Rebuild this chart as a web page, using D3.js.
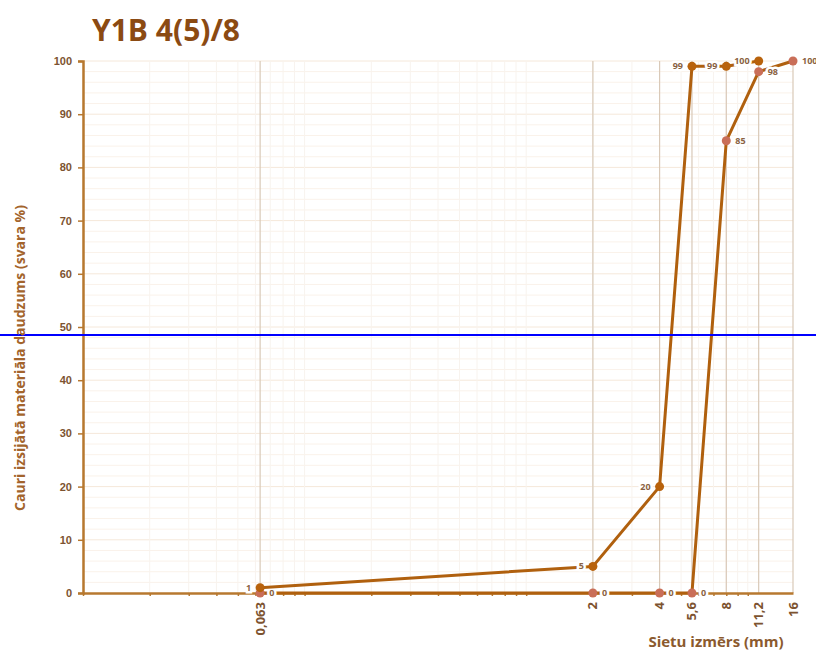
<!DOCTYPE html>
<head><style>body { margin: 0; } svg { background-color: #fff; font-family: "Open Sans", sans-serif; }</style></head>
<body>
    <div class="container"></div>
    <script src="https://d3js.org/d3.v7.min.js"></script>
    <script>
        // sieve sizes (mm) and their labels
        var sieves = [0.063, 2, 4, 5.6, 8, 11.2, 16];
        var sieveLabels = ['0,063', '2', '4', '5,6', '8', '11,2', '16'];
        // upper and lower grading limits (% passing)
        var upper = [1, 5, 20, 99, 99, 100];
        var lower = [0, 0, 0, 0, 85, 98, 100];
        var yTicks = [0, 10, 20, 30, 40, 50, 60, 70, 80, 90, 100];
        var refLine = 48.5;

        var W = 816, H = 653;
        var svg = d3.select('.container')
                    .append('svg')
                    .attr('width', W)
                    .attr('height', H);

        var x = d3.scaleLog().domain([0.01, 16]).range([83, 793]);
        var y = d3.scaleLinear().domain([0, 100]).range([593, 61]);

        // faint grid
        var grid = svg.append('g');
        grid.selectAll('.hmin')
            .data(d3.range(2, 101, 2))
            .enter().append('line')
            .attr('x1', x.range()[0]).attr('x2', x.range()[1])
            .attr('y1', function(d) { return y(d); })
            .attr('y2', function(d) { return y(d); })
            .attr('stroke', function(d) { return d % 10 === 0 ? '#f5e8da' : '#faf2ea'; })
            .attr('stroke-width', 1);
        grid.selectAll('.vmin')
            .data(x.ticks())
            .enter().append('line')
            .attr('x1', function(d) { return x(d); })
            .attr('x2', function(d) { return x(d); })
            .attr('y1', y(0)).attr('y2', y(100))
            .attr('stroke', '#f8f3ee')
            .attr('stroke-width', 1);
        grid.selectAll('.vmaj')
            .data(sieves)
            .enter().append('line')
            .attr('x1', function(d) { return x(d); })
            .attr('x2', function(d) { return x(d); })
            .attr('y1', y(0)).attr('y2', y(100))
            .attr('stroke', '#d9c9b8')
            .attr('stroke-width', 1.2);

        // axes
        var yaxis = svg.append('g')
                       .attr('transform', 'translate(83,0)')
                       .call(d3.axisLeft(y).tickValues(yTicks).tickSize(5).tickPadding(6));
        yaxis.select('.domain').attr('stroke', '#b7782f').attr('stroke-width', 2.5);
        yaxis.selectAll('.tick line').attr('stroke', '#b7782f').attr('stroke-width', 1.5);
        yaxis.selectAll('.tick text')
             .attr('fill', '#7d5330')
             .style('font-size', '11px')
             .style('font-weight', 'bold');

        var xaxis = svg.append('g')
                       .attr('transform', 'translate(0,593)')
                       .call(d3.axisBottom(x).ticks(10).tickFormat('').tickSize(3).tickSizeOuter(0));
        xaxis.select('.domain').attr('stroke', '#b7782f').attr('stroke-width', 2.5);
        xaxis.selectAll('.tick line').attr('stroke', '#b7782f').attr('stroke-width', 1.5);

        svg.append('g').selectAll('text')
           .data(sieves)
           .enter().append('text')
           .attr('transform', function(d) { return 'translate(' + (x(d) + 4.5) + ',602) rotate(-90)'; })
           .attr('text-anchor', 'end')
           .attr('fill', '#7d5330')
           .style('font-size', '13px')
           .style('font-weight', 'bold')
           .text(function(d, i) { return sieveLabels[i]; });

        // series
        var line = d3.line()
                     .x(function(d, i) { return x(sieves[i]); })
                     .y(function(d) { return y(d); });

        function drawSeries(vals, fill, side) {
            var g = svg.append('g');
            g.append('path')
             .attr('d', line(vals))
             .attr('fill', 'none')
             .attr('stroke', '#b0600e')
             .attr('stroke-width', 3)
             .attr('stroke-linejoin', 'round');
            g.selectAll('text')
             .data(vals)
             .enter().append('text')
             .attr('x', function(d, i) { return x(sieves[i]) + side * 9; })
             .attr('y', function(d) { return y(d) + 3; })
             .attr('text-anchor', side < 0 ? 'end' : 'start')
             .attr('fill', '#8a6242')
             .attr('stroke', '#fff')
             .attr('stroke-width', 5)
             .attr('paint-order', 'stroke')
             .style('font-size', '9px')
             .style('font-weight', 'bold')
             .text(function(d) { return d; });
            g.selectAll('circle')
             .data(vals)
             .enter().append('circle')
             .attr('cx', function(d, i) { return x(sieves[i]); })
             .attr('cy', function(d) { return y(d); })
             .attr('r', 4.5)
             .attr('fill', fill);
        }
        drawSeries(lower, '#c96e58', 1);
        drawSeries(upper, '#b8620c', -1);

        // reference line
        svg.append('line')
           .attr('x1', 0).attr('x2', W)
           .attr('y1', y(refLine)).attr('y2', y(refLine))
           .attr('stroke', '#0000ff')
           .attr('stroke-width', 2);

        // titles
        svg.append('text')
           .attr('x', 92).attr('y', 41)
           .attr('fill', '#8b4a12')
           .style('font-size', '30px')
           .style('font-weight', 'bold')
           .text('Y1B 4(5)/8');

        svg.append('text')
           .attr('transform', 'translate(25,' + 358 + ') rotate(-90)')
           .attr('text-anchor', 'middle')
           .attr('fill', '#a3642c')
           .style('font-size', '14px')
           .style('font-weight', 'bold')
           .text('Cauri izsijātā materiāla daudzums (svara %)');

        svg.append('text')
           .attr('x', 716).attr('y', 647)
           .attr('text-anchor', 'middle')
           .attr('fill', '#8b5a2e')
           .style('font-size', '15px')
           .style('font-weight', 'bold')
           .text('Sietu izmērs (mm)');
    </script>
</body>
